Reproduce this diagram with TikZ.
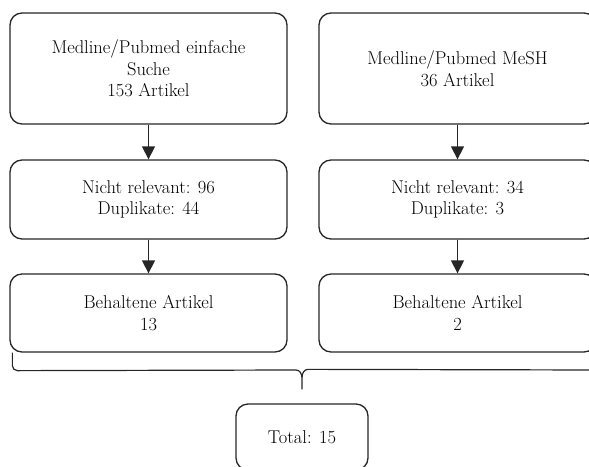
\documentclass[tikz,border=0pt]{standalone}
\usepackage{tikz}
\usetikzlibrary{arrows.meta,positioning}

\begin{document}
\begin{tikzpicture}[x=1pt,y=-1pt,->,>={Triangle[length=13pt,width=13pt]},
		line width=1.3pt,draw=black!85,
		main node/.style={rectangle,draw,rounded corners=12pt,align=center,
			text=black,font=\fontsize{18.5}{21.5}\selectfont,
			minimum width=277pt,inner sep=0pt},
		total node/.style={main node,minimum width=132pt,minimum height=66pt}]
		
		\useasboundingbox (0,0) rectangle (589,466);
		
		% first row
		\node[main node,minimum height=111pt] (a) at (148.5,68.5) {Medline/Pubmed einfache\\Suche\\153 Artikel};
		\node[main node,minimum height=111pt] (b) at (457.5,68.5) {Medline/Pubmed MeSH\\36 Artikel};
		% second row
		\node[main node,minimum height=79pt] (c) at (148.5,199.5) {Nicht relevant: 96\\Duplikate: 44};
		\node[main node,minimum height=79pt] (d) at (457.5,199.5) {Nicht relevant: 34\\Duplikate: 3};
		% third row
		\node[main node,minimum height=78pt] (e) at (148.5,313) {Behaltene Artikel\\13};
		\node[main node,minimum height=78pt] (f) at (457.5,313) {Behaltene Artikel\\2};
		
		\node[total node] (g) at (302,437) {Total: 15};
		
		\path
		(a) edge (c)
		(b) edge (d)
		(c) edge (e)
		(d) edge (f);
		
		% brace under the last row
		\coordinate (bl) at ([xshift=3pt]e.south west);
		\coordinate (cusp) at ([yshift=14pt]g.north);
		\draw[-,line width=1.2pt] (bl) -- ++(0,13) to[out=-90,in=180] ++(5,5)
			-- ([xshift=-6pt]cusp |- 0,370) to[out=0,in=90] ++(6,8) -- (cusp);
		\draw[-,line width=1.2pt] ([yshift=12pt]cusp) to[out=90,in=180] ++(6,-8) -- (600,370);
		
\end{tikzpicture}
\end{document}
